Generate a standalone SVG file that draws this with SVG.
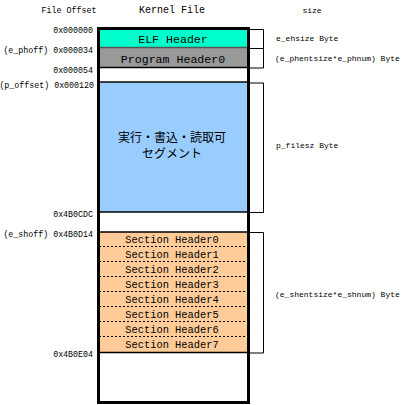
<svg xmlns="http://www.w3.org/2000/svg" width="406" height="405" viewBox="0 0 406 405">
<style>
.off{font-family:"Liberation Mono",monospace;font-size:8.3px;fill:#000;text-anchor:end}
.sz{font-family:"Liberation Mono",monospace;font-size:8px;fill:#000}
.hd{font-family:"Liberation Mono",monospace;font-size:11.6px;fill:#000;text-anchor:middle}
.sh{font-family:"Liberation Mono",monospace;font-size:10.4px;fill:#000;text-anchor:middle}
.ttl{font-family:"Liberation Mono",monospace;fill:#000;text-anchor:middle}
.jp{font-family:"Noto Sans CJK JP",sans-serif;font-size:12px;fill:#000;text-anchor:middle}
.dot{stroke:#000;stroke-width:1;stroke-dasharray:2,2}
.tick{stroke:#000;stroke-width:1;fill:none}
</style>
<rect width="406" height="405" fill="#fff"/>
<g id="titles">
<text class="ttl" x="69" y="13" font-size="8.3">File Offset</text>
<text class="ttl" x="172" y="13" font-size="10">Kernel File</text>
<text class="ttl" x="312" y="13" font-size="8">size</text>
</g>
<g id="elf-header">
<rect x="98" y="29" width="150" height="18.5" fill="#00ffcc"/>
<text class="hd" x="173" y="43">ELF Header</text>
</g>
<g id="program-header">
<rect x="98" y="48" width="150" height="19.5" fill="#999999"/>
<text class="hd" x="173" y="63">Program Header0</text>
</g>
<g id="segment">
<rect x="98" y="82.5" width="150" height="129.5" fill="#99ccff"/>
<text class="jp" x="172" y="142">実行・書込・読取可</text>
<text class="jp" x="172" y="157.5">セグメント</text>
</g>
<g id="section-headers">
<rect x="98" y="232" width="150" height="120.5" fill="#ffcc99"/>
<text class="sh" x="172" y="243">Section Header0</text>
<text class="sh" x="172" y="258">Section Header1</text>
<text class="sh" x="172" y="273">Section Header2</text>
<text class="sh" x="172" y="288">Section Header3</text>
<text class="sh" x="172" y="303">Section Header4</text>
<text class="sh" x="172" y="318">Section Header5</text>
<text class="sh" x="172" y="333">Section Header6</text>
<text class="sh" x="172" y="348">Section Header7</text>
<line class="dot" x1="99" y1="246.5" x2="247" y2="246.5"/>
<line class="dot" x1="99" y1="261.5" x2="247" y2="261.5"/>
<line class="dot" x1="99" y1="276.5" x2="247" y2="276.5"/>
<line class="dot" x1="99" y1="291.5" x2="247" y2="291.5"/>
<line class="dot" x1="99" y1="306.5" x2="247" y2="306.5"/>
<line class="dot" x1="99" y1="321.5" x2="247" y2="321.5"/>
<line class="dot" x1="99" y1="336.5" x2="247" y2="336.5"/>
</g>
<g id="dividers" stroke="#000" stroke-width="1.5">
<line x1="98" y1="47.5" x2="248" y2="47.5" stroke="#555"/>
<line x1="98" y1="67.5" x2="248" y2="67.5"/>
<line x1="98" y1="82" x2="248" y2="82"/>
<line x1="98" y1="212" x2="248" y2="212"/>
<line x1="98" y1="232" x2="248" y2="232"/>
<line x1="98" y1="352.5" x2="248" y2="352.5"/>
</g>
<g id="kernel-file">
<rect x="98.5" y="28.5" width="150" height="374" fill="none" stroke="#000" stroke-width="3"/>
</g>
<g id="offsets">
<text class="off" x="93" y="33">0x000000</text>
<text class="off" x="93" y="53">(e_phoff) 0x000034</text>
<text class="off" x="93" y="73">0x000054</text>
<text class="off" x="94" y="88" font-size="7.6px">(p_offset) 0x000120</text>
<text class="off" x="93" y="217">0x4B0CDC</text>
<text class="off" x="93" y="237">(e_shoff) 0x4B0D14</text>
<text class="off" x="93" y="357">0x4B0E04</text>
</g>
<g id="connectors">
<path class="tick" d="M250 29.5H263.5V48.5H250M263.5 48.5V68H250"/>
<path class="tick" d="M250 83H263.5V212.5H250"/>
<path class="tick" d="M250 232.5H263.5V353H250"/>
</g>
<g id="sizes">
<text class="sz" x="276" y="41">e_ehsize Byte</text>
<text class="sz" x="275" y="61">(e_phentsize*e_phnum) Byte</text>
<text class="sz" x="276" y="148">p_filesz Byte</text>
<text class="sz" x="275" y="297">(e_shentsize*e_shnum) Byte</text>
</g>
</svg>
